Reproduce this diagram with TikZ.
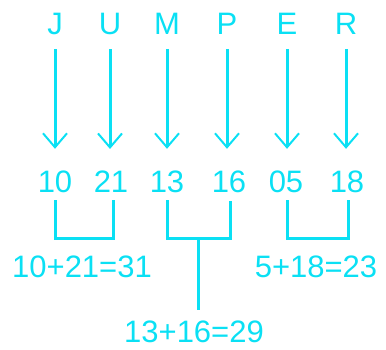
\documentclass[tikz,border=0pt]{standalone}
\usepackage{fontspec}
\setmainfont{Liberation Sans}
\usetikzlibrary{arrows.meta}
\definecolor{cyanink}{RGB}{10,224,244}
\begin{document}
\begin{tikzpicture}[x=1pt,y=-1pt,
  txt/.style={text=cyanink,font=\fontsize{31}{31}\selectfont,inner sep=0pt,anchor=center},
  map/.style={draw=cyanink,line width=3pt,shorten <=14pt,shorten >=22pt,
    -{Straight Barb[length=14pt,width=24pt,line width=2pt]}},
  bracket/.style={draw=cyanink,line width=3pt}]
\useasboundingbox (0,0) rectangle (386,349);
% letters
\node[txt] (J) at (55,24) {J};
\node[txt] (U) at (110,24) {U};
\node[txt] (M) at (167,24) {M};
\node[txt] (P) at (227,24) {P};
\node[txt] (E) at (287,24) {E};
\node[txt] (R) at (346,24) {R};
% alphabet positions
\node[txt] (n10) at (55,182) {10};
\node[txt] (n21) at (111,182) {21};
\node[txt] (n13) at (167,182) {13};
\node[txt] (n16) at (229,182) {16};
\node[txt] (n05) at (286,182) {05};
\node[txt] (n18) at (347,182) {18};
% arrows from letters to numbers
\foreach \a/\b in {J/n10,U/n21,M/n13,P/n16,E/n05,R/n18}
  \draw[map] (\a.south) -- (\a.south |- \b.north);
% pair sums
\node[txt] (s1) at (82,267) {10+21=31};
\node[txt] (s3) at (316,267) {5+18=23};
\node[txt] (s2) at (194,332) {13+16=29};
% brackets under the number pairs
\draw[bracket] (55,200) -- (55,238) -- (113,238) -- (113,200);
\draw[bracket] (167,200) -- (167,238) -- (230,238) -- (230,201);
\coordinate (stem) at (198,238);
\draw[bracket] (stem) -- ++(0,72);
\draw[bracket] (287,200) -- (287,238) -- (348,238) -- (348,200);
\end{tikzpicture}
\end{document}
